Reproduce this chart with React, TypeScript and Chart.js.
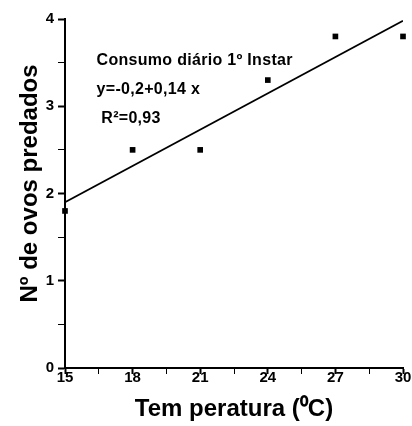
import React, { useEffect, useRef } from "react";
import { Chart, registerables } from "chart.js";

Chart.register(...registerables);

const temperatures = [15, 18, 21, 24, 27, 30];
const eggsPredated = [1.8, 2.5, 2.5, 3.3, 3.8, 3.8];
const fitX = [15, 30];
const fitY = [1.9, 3.98];
const annotationLines = ["Consumo diário 1º Instar", "y=-0,2+0,14 x", " R²=0,93"];
const xTitle = "Tem peratura (⁰C)";
const yTitle = "   Nº de ovos predados";

const FONT = "'Liberation Sans', Arial, sans-serif";

const annotationPlugin = {
  id: "annotationText",
  afterDraw(chart: any) {
    const ctx = chart.ctx;
    const xs = chart.scales.x;
    const ys = chart.scales.y;
    ctx.save();
    ctx.fillStyle = "#000";
    ctx.font = `bold 16px ${FONT}`;
    try { (ctx as any).letterSpacing = "0.3px"; } catch (e) {}
    ctx.textAlign = "left";
    ctx.textBaseline = "middle";
    const levels = [3.52, 3.19, 2.86];
    annotationLines.forEach((t, i) => {
      ctx.fillText(t, xs.getPixelForValue(16.4), ys.getPixelForValue(levels[i]));
    });
    ctx.restore();
  },
};

export default function App() {
  const ref = useRef<HTMLCanvasElement>(null);
  useEffect(() => {
    document.body.style.margin = "0";
    const canvas = ref.current!;
    const chart = new Chart(canvas, {
      type: "scatter",
      data: {
        datasets: [
          {
            type: "line",
            data: fitX.map((x, i) => ({ x, y: fitY[i] })),
            borderColor: "#000",
            borderWidth: 1.8,
            pointRadius: 0,
            fill: false,
          } as any,
          {
            data: temperatures.map((x, i) => ({ x, y: eggsPredated[i] })),
            backgroundColor: "#000",
            borderWidth: 0,
            pointStyle: "rect",
            pointRadius: 4,
            clip: false,
          } as any,
        ],
      },
      options: {
        animation: false,
        responsive: false,
        layout: { padding: { left: 0, right: 9, top: 19, bottom: 0 } },
        plugins: { legend: { display: false }, tooltip: { enabled: false } },
        scales: {
          x: {
            type: "linear",
            min: 15,
            max: 30,
            afterFit: (s: any) => { s.height = 58; },
            border: { display: true, color: "#000", width: 2 },
            grid: {
              drawOnChartArea: false,
              drawTicks: true,
              tickLength: 6,
              tickColor: "#000",
              tickWidth: (c: any) => (c.tick && c.tick.value % 3 === 0 ? 2 : 1),
            },
            ticks: {
              stepSize: 1.5,
              autoSkip: false,
              maxRotation: 0,
              padding: -5,
              color: "#000",
              font: { family: FONT, size: 15, weight: "bold" },
              callback: (v: any) => (Number(v) % 3 === 0 ? String(v) : ""),
            },
            title: {
              display: true,
              text: xTitle,
              color: "#000",
              font: { family: FONT, size: 24, weight: "bold" },
              padding: { top: 0, bottom: 2 },
            },
          },
          y: {
            type: "linear",
            min: 0,
            max: 4,
            afterFit: (s: any) => { s.width = 65; },
            border: { display: true, color: "#000", width: 2 },
            grid: {
              drawOnChartArea: false,
              drawTicks: true,
              tickLength: 7,
              tickColor: "#000",
              tickWidth: (c: any) => (c.tick && Number.isInteger(c.tick.value) ? 2 : 1),
            },
            ticks: {
              stepSize: 0.5,
              autoSkip: false,
              padding: 4,
              color: "#000",
              font: { family: FONT, size: 15, weight: "bold" },
              callback: (v: any) => (Number.isInteger(Number(v)) ? String(v) : ""),
            },
            title: {
              display: true,
              text: yTitle,
              color: "#000",
              font: { family: FONT, size: 24, weight: "bold" },
              padding: { top: 16, bottom: 0 },
            },
          },
        },
      },
      plugins: [annotationPlugin],
    });
    return () => chart.destroy();
  }, []);
  return (
    <div style={{ width: 412, height: 426, background: "#fff" }}>
      <canvas ref={ref} width={412} height={426} />
    </div>
  );
}
